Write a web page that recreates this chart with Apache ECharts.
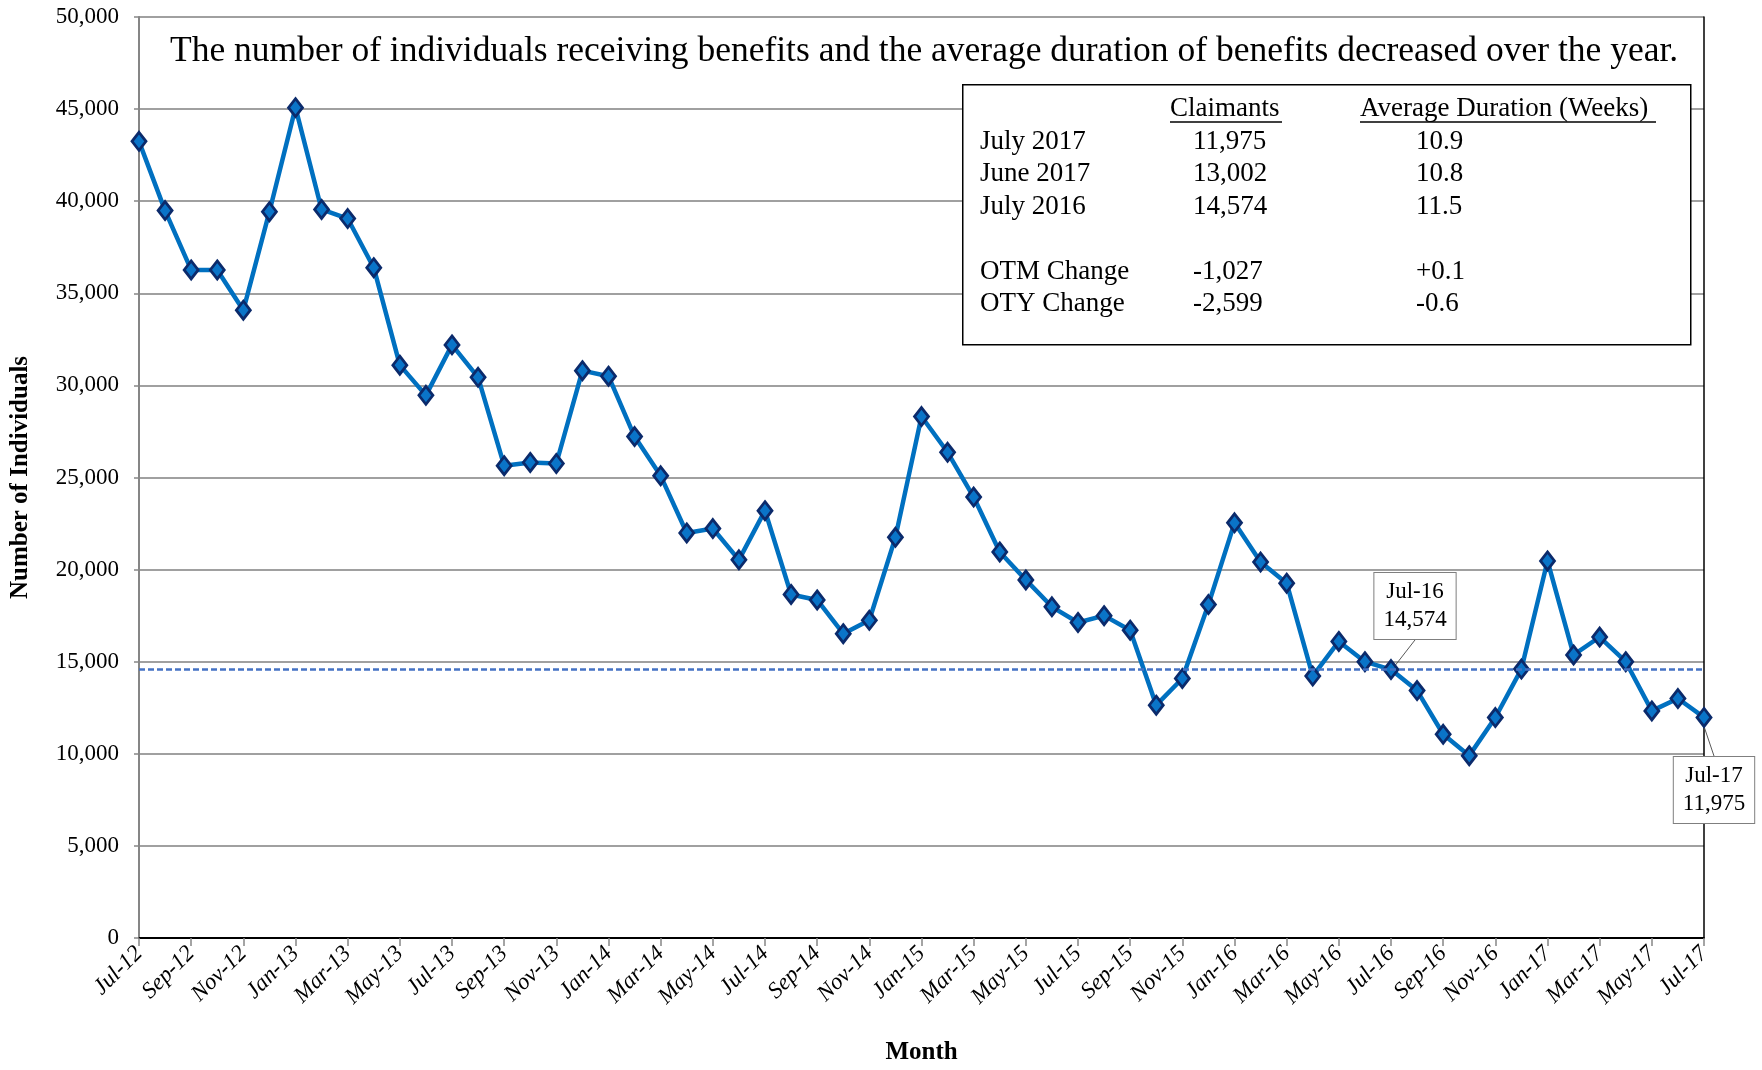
<!DOCTYPE html>
<html>
<head>
<meta charset="utf-8">
<script src="https://cdn.jsdelivr.net/npm/echarts@6/dist/echarts.min.js"></script>
<style>
  html, body { margin: 0; padding: 0; background: #fff; }
  #main { width: 1762px; height: 1070px; }
</style>
</head>
<body>
<div id="main"></div>
<script>
// months, Jul-12 .. Jul-17
var months = [
  'Jul-12','Aug-12','Sep-12','Oct-12','Nov-12','Dec-12',
  'Jan-13','Feb-13','Mar-13','Apr-13','May-13','Jun-13','Jul-13','Aug-13','Sep-13','Oct-13','Nov-13','Dec-13',
  'Jan-14','Feb-14','Mar-14','Apr-14','May-14','Jun-14','Jul-14','Aug-14','Sep-14','Oct-14','Nov-14','Dec-14',
  'Jan-15','Feb-15','Mar-15','Apr-15','May-15','Jun-15','Jul-15','Aug-15','Sep-15','Oct-15','Nov-15','Dec-15',
  'Jan-16','Feb-16','Mar-16','Apr-16','May-16','Jun-16','Jul-16','Aug-16','Sep-16','Oct-16','Nov-16','Dec-16',
  'Jan-17','Feb-17','Mar-17','Apr-17','May-17','Jun-17','Jul-17'
];

// claimants per month
var claimants = [
  43250, 39490, 36270, 36270, 34080, 39430,
  45080, 39550, 39060, 36390, 31100, 29460, 32200, 30440, 25640, 25820, 25760, 30800,
  30500, 27220, 25090, 21990, 22230, 20530, 23200, 18650, 18350, 16520, 17250, 21750,
  28310, 26370, 23940, 20960, 19440, 17980, 17130, 17500, 16710, 12640, 14090, 18100,
  22540, 20410, 19260, 14220, 16100, 15000, 14574, 13430, 11060, 9900, 11970, 14600,
  20470, 15370, 16340, 15000, 12330, 13002, 11975
];

var refLevel = 14574;   // july 2016 level (dashed line)
var calloutMonths = ['Jul-16', 'Jul-17'];

// summary box
var boxRows = ['July 2017', 'June 2017', 'July 2016', '', 'OTM Change', 'OTY Change'];
var boxClaimants = ['11,975', '13,002', '14,574', '', '-1,027', '-2,599'];
var boxDuration = ['10.9', '10.8', '11.5', '', '+0.1', '-0.6'];

var subtitle = 'The number of individuals receiving benefits and the average duration of benefits decreased over the year.';

var serif = '"Liberation Serif", "DejaVu Serif", serif';
var fmt = function (v) { return Number(v).toLocaleString('en-US'); };

var chart = echarts.init(document.getElementById('main'));

var seriesData = claimants.map(function (v, i) {
  var item = { value: v };
  var k = calloutMonths.indexOf(months[i]);
  if (k >= 0) {
    item.label = {
      show: true,
      position: k === 0 ? 'top' : 'bottom',
      distance: 5
    };
  }
  return item;
});

// the summary table, drawn as graphic text
var boxFont = '27px ' + serif;
var boxGraphic = [];
boxGraphic.push({
  type: 'rect', left: 962, top: 84,
  shape: { width: 728, height: 260 },
  style: { fill: '#fff', stroke: '#000', lineWidth: 1.5 },
  z: 10
});
boxGraphic.push({
  type: 'text', x: 1170, y: 109, z: 11,
  style: { text: 'Claimants', font: boxFont, fill: '#000', verticalAlign: 'middle' }
});
boxGraphic.push({
  type: 'line', z: 11, shape: { x1: 1170, y1: 122, x2: 1282, y2: 122 },
  style: { stroke: '#000', lineWidth: 1.3 }
});
boxGraphic.push({
  type: 'text', x: 1360, y: 109, z: 11,
  style: { text: 'Average Duration (Weeks)', font: boxFont, fill: '#000', verticalAlign: 'middle' }
});
boxGraphic.push({
  type: 'line', z: 11, shape: { x1: 1360, y1: 122, x2: 1656, y2: 122 },
  style: { stroke: '#000', lineWidth: 1.3 }
});
boxRows.forEach(function (r, i) {
  var y = 142 + i * 32.4;
  if (!r) return;
  boxGraphic.push({ type: 'text', x: 980, y: y, z: 11,
    style: { text: r, font: boxFont, fill: '#000', verticalAlign: 'middle' } });
  boxGraphic.push({ type: 'text', x: 1193, y: y, z: 11,
    style: { text: boxClaimants[i], font: boxFont, fill: '#000', verticalAlign: 'middle' } });
  boxGraphic.push({ type: 'text', x: 1416, y: y, z: 11,
    style: { text: boxDuration[i], font: boxFont, fill: '#000', verticalAlign: 'middle' } });
});

var option = {
  backgroundColor: '#fff',
  animation: false,
  title: {
    text: subtitle,
    left: 165,
    top: 29,
    textStyle: { fontFamily: serif, fontSize: 35.5, fontWeight: 'normal', color: '#000' }
  },
  grid: { left: 139, right: 58, top: 17, bottom: 128, containLabel: false },
  xAxis: [{
    type: 'category',
    data: months,
    boundaryGap: false,
    name: 'Month',
    nameLocation: 'middle',
    nameGap: 102,
    nameTextStyle: { fontFamily: serif, fontSize: 25, fontWeight: 'bold', color: '#000' },
    axisLine: { lineStyle: { color: '#868686', width: 2 } },
    axisTick: { show: true, interval: 1, length: 8, lineStyle: { color: '#868686', width: 1.5 } },
    axisLabel: {
      interval: 1, rotate: 45, margin: 12,
      fontFamily: serif, fontStyle: 'italic', fontSize: 23, color: '#000'
    },
    splitLine: { show: false }
  }, {
    type: 'category',
    data: months,
    boundaryGap: false,
    position: 'top',
    axisLine: { lineStyle: { color: '#000', width: 2 } },
    axisTick: { show: false },
    axisLabel: { show: false }
  }],
  yAxis: [{
    type: 'value',
    min: 0, max: 50000, interval: 5000,
    name: 'Number of Individuals',
    nameLocation: 'middle',
    nameRotate: 90,
    nameGap: 106,
    nameTextStyle: { fontFamily: serif, fontSize: 25, fontWeight: 'bold', color: '#000' },
    axisLine: { show: true, lineStyle: { color: '#868686', width: 2 } },
    axisTick: { show: true, length: 5, lineStyle: { color: '#868686', width: 1.5 } },
    axisLabel: { formatter: fmt, margin: 20, fontFamily: serif, fontSize: 23, color: '#000' },
    splitLine: { lineStyle: { color: '#a0a0a0', width: 2 } }
  }, {
    type: 'value',
    min: 0, max: 50000, interval: 5000,
    position: 'right',
    axisLine: { show: true, lineStyle: { color: '#000', width: 1.5 } },
    axisTick: { show: false },
    axisLabel: { show: false },
    splitLine: { show: false }
  }],
  series: [{
    name: 'Claimants',
    type: 'line',
    data: seriesData,
    symbol: 'diamond',
    symbolSize: [14, 18],
    showAllSymbol: true,
    lineStyle: { color: '#0070C0', width: 4.5 },
    itemStyle: { color: '#0A74C8', borderColor: '#0B2A6B', borderWidth: 2.8 },
    label: {
      show: false,
      formatter: function (p) { return p.name + '\n' + fmt(p.value); },
      fontFamily: serif, fontSize: 23, lineHeight: 28, color: '#000',
      backgroundColor: '#fff', borderColor: '#7f7f7f', borderWidth: 1,
      padding: [5, 9]
    },
    labelLine: { show: true, lineStyle: { color: '#595959', width: 1 } },
    labelLayout: function (p) {
      if (p.dataIndex === months.indexOf('Jul-16')) return { dx: 24, dy: -15 };
      if (p.dataIndex === months.indexOf('Jul-17')) return { dx: 10, dy: 24 };
      return {};
    },
    markLine: {
      silent: true,
      symbol: ['none', 'none'],
      label: { show: false },
      lineStyle: { color: '#4472C4', width: 2.5, type: [6, 3] },
      data: [{ yAxis: refLevel }]
    },
    z: 3
  }],
  graphic: boxGraphic
};

chart.setOption(option);
</script>
</body>
</html>
